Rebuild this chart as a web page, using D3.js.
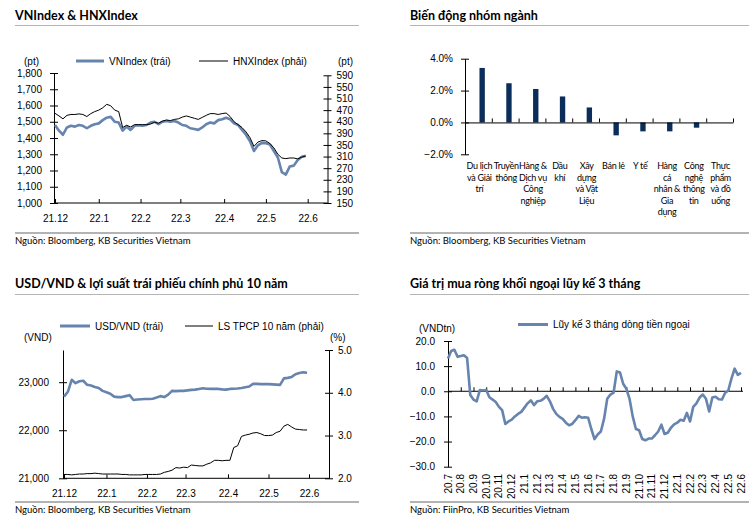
<!DOCTYPE html>
<html><head><meta charset="utf-8">
<script src="https://cdn.jsdelivr.net/npm/d3@7"></script>
<style>
body{margin:0;background:#fff;}
svg{display:block;}
.title{font-family:Lato,"Open Sans",sans-serif;font-weight:bold;font-size:12.5px;fill:#000;}
.src{font-family:Lato,sans-serif;font-size:9.5px;fill:#000;}
.tk{font-family:"Liberation Sans",Arial,sans-serif;font-size:10px;fill:#000;}
.cat{font-family:Lato,sans-serif;font-size:9px;letter-spacing:-0.3px;fill:#000;}
</style></head>
<body><svg id="c" width="749" height="520"></svg>
<script>
// ---------- DATA ----------
// Panel 1: VNIndex & HNXIndex (sampled every 2nd trading day)
const p1MonthLabels = ["21.12","22.1","22.2","22.3","22.4","22.5","22.6"];
const p1MonthStart = [0,22,43,63,85,106,127];
const vnIndex = [1480,1445,1420,1465,1475,1470,1480,1475,1460,1475,1485,1490,1510,1525,1530,1500,
 1495,1445,1470,1450,1475,1478,1475,1480,1495,1500,1485,1500,1505,1500,1505,1495,
 1480,1475,1460,1455,1450,1465,1485,1495,1490,1510,1515,1525,1515,1490,1480,1450,
 1420,1380,1320,1355,1370,1368,1360,1320,1280,1190,1175,1225,1230,1265,1285,1290];
const hnxIndex = [459,450,440,452,455,455,457,455,448,458,465,470,478,490,485,470,
 465,410,418,412,420,420,420,420,422,428,425,432,436,434,438,440,
 446,450,446,442,438,445,452,458,458,455,458,460,448,430,420,410,
 395,375,345,360,365,364,355,340,318,305,303,305,305,302,308,312];
const p1LeftTicks = [1000,1100,1200,1300,1400,1500,1600,1700,1800];
const p1RightTicks = [150,190,230,270,310,350,390,430,470,510,550,590];

// Panel 2: sector performance
const sectors = [
 ["Du lịch","và Giải","trí"],["Truyền","thông"],["Hàng &","Dịch vụ","Công","nghiệp"],["Dầu","khí"],
 ["Xây","dựng","và Vật","Liệu"],["Bán lẻ"],["Y tế"],["Hàng","cá","nhân &","Gia","dụng"],
 ["Công","nghệ","thông","tin"],["Thực","phẩm","và đồ","uống"]];
const sectorChange = [3.42,2.46,2.1,1.63,0.94,-0.81,-0.56,-0.56,-0.33,0];
const p2Ticks = [-2,0,2,4];

// Panel 3: USD/VND & 10Y government bond yield (every 2nd trading day)
const p3MonthLabels = ["21.12","22.1","22.2","22.3","22.4","22.5","22.6"];
const p3MonthStart = [0,22,43,63,85,106,127];
const usdVnd = [22700,22800,23050,22980,23020,23030,22945,22930,22900,22880,22820,22790,22760,22700,22690,22690,
 22710,22730,22630,22640,22645,22650,22650,22655,22680,22710,22690,22740,22820,22815,22820,22820,
 22830,22840,22845,22860,22875,22865,22860,22865,22860,22850,22845,22860,22865,22870,22880,22895,
 22910,22965,22965,22960,22960,22960,22955,22950,22945,23080,23090,23110,23165,23190,23205,23195];
const bondYield = [2.09,2.09,2.08,2.09,2.1,2.1,2.11,2.11,2.12,2.11,2.1,2.1,2.1,2.1,2.1,2.09,
 2.09,2.08,2.08,2.08,2.08,2.09,2.09,2.09,2.09,2.1,2.14,2.16,2.19,2.25,2.24,2.26,
 2.25,2.31,2.3,2.29,2.29,2.33,2.36,2.42,2.42,2.41,2.42,2.42,2.72,2.76,2.98,3.01,
 3.03,3.06,3.07,3.04,3.0,3.0,3.01,3.07,3.1,3.22,3.26,3.2,3.15,3.14,3.13,3.13];
const p3LeftTicks = [21000,22000,23000];
const p3RightTicks = [2,3,4,5];

// Panel 4: foreign net buying, 3-month cumulative (every quarter month)
const p4MonthLabels = ["20.7","20.8","20.9","20.10","20.11","20.12","21.1","21.2","21.3","21.4","21.5","21.6",
 "21.7","21.8","21.9","21.10","21.11","21.12","22.1","22.2","22.3","22.4","22.5","22.6"];
const foreignFlow = [13,16,16.5,13.7,14,14.3,13.2,-1.5,-3.3,-4,0.5,0.3,0.5,-2.4,-3.3,-4.3,
 -6.2,-7.5,-13,-12,-11.3,-10,-9,-8.2,-6.5,-4.8,-3.6,-5.5,-4,-3.8,-3,-1.8,
 -4,-7,-9,-10.2,-11,-12.5,-13.5,-13,-11.5,-9.8,-10.5,-10.3,-10.5,-15,-19,-17.2,
 -16,-11,-3,-1.3,-0.5,7.9,7.5,3,1,-3,-10,-15,-15.5,-19,-19.5,-18.8,
 -18.8,-17.5,-16,-13.3,-17,-16.5,-14.5,-13.2,-12.5,-11.3,-11.7,-8.6,-12,-6.2,-4.8,-2.5,
 -1.3,-3,-8,-2.5,-2.2,-3.2,-3.3,-0.7,0.3,5,9,6.5,7.3];
const p4Ticks = [-30,-20,-10,0,10,20];

// ---------- DRAW ----------
const BLUE = "#6784ae", NAVY = "#0b2d59", RULE = "#9a9a9a";
const svg = d3.select("#c");
svg.append("rect").attr("width",749).attr("height",520).attr("fill","#fff");

function header(x0, x1, y, text, ruleY){
  svg.append("text").attr("class","title").attr("x",x0).attr("y",y).text(text);
  svg.append("line").attr("x1",x0).attr("x2",x1).attr("y1",ruleY).attr("y2",ruleY)
    .attr("stroke","#b5b5b5").attr("stroke-width",1.2);
}
function source(x0,x1,ruleY,text){
  svg.append("line").attr("x1",x0).attr("x2",x1).attr("y1",ruleY).attr("y2",ruleY)
    .attr("stroke",RULE).attr("stroke-width",1.6);
  svg.append("text").attr("class","src").attr("x",x0).attr("y",ruleY+11).text(text);
}
function styleAxis(g, cross){
  g.select(".domain").attr("stroke","#000").attr("stroke-width",1);
  g.selectAll(".tick line").attr("stroke","#000");
  if(cross==="v") g.selectAll(".tick line").attr("x1",-4).attr("x2",4);
  g.selectAll("text").attr("class","tk").attr("font-family",null).attr("font-size",null);
}
function legendItem(x, y, w, color, sw, label){
  svg.append("line").attr("x1",x).attr("x2",x+w).attr("y1",y).attr("y2",y)
    .attr("stroke",color).attr("stroke-width",sw);
  svg.append("text").attr("class","tk").attr("x",x+w+5).attr("y",y+3.5).text(label);
}

// ===== Panel 1 =====
header(15,359,20,"VNIndex & HNXIndex",25.5);
{
  const x = d3.scaleLinear().domain([0,127]).range([55,307.7]);
  const yL = d3.scaleLinear().domain([1000,1800]).range([203,73]);
  const yR = d3.scaleLinear().domain([150,590]).range([203,75.3]);
  const gL = svg.append("g").attr("transform","translate(54,0)")
    .call(d3.axisLeft(yL).tickValues(p1LeftTicks).tickFormat(d3.format(",")).tickSize(4).tickSizeOuter(0).tickPadding(8));
  styleAxis(gL,"v");
  const gR = svg.append("g").attr("transform","translate(327.5,0)")
    .call(d3.axisRight(yR).tickValues(p1RightTicks).tickSize(4).tickSizeOuter(0).tickPadding(5));
  styleAxis(gR,"v");
  const gB = svg.append("g").attr("transform","translate(0,203)")
    .call(d3.axisBottom(x).tickValues(p1MonthStart).tickFormat((d,i)=>p1MonthLabels[i]).tickSize(-4).tickSizeOuter(0).tickPadding(12));
  styleAxis(gB);
  gB.select(".domain").attr("d","M54,0H327.5");
  const line1 = d3.line().x((d,i)=>x(i*2)).y(d=>yL(d));
  const line2 = d3.line().x((d,i)=>x(i*2)).y(d=>yR(d));
  svg.append("path").attr("d",line1(vnIndex)).attr("fill","none").attr("stroke",BLUE).attr("stroke-width",2.6).attr("stroke-linejoin","round");
  svg.append("path").attr("d",line2(hnxIndex)).attr("fill","none").attr("stroke","#000").attr("stroke-width",1).attr("stroke-linejoin","round");
  legendItem(76,61,28,BLUE,3,"VNIndex (trái)");
  legendItem(199,61,29,"#000",1,"HNXIndex (phải)");
  svg.append("text").attr("class","tk").attr("x",24).attr("y",65).text("(pt)");
  svg.append("text").attr("class","tk").attr("x",338).attr("y",65).text("(pt)");
}
source(15,359,233,"Nguồn: Bloomberg, KB Securities Vietnam");

// ===== Panel 2 =====
header(410,749,20,"Biến động nhóm ngành",25.5);
{
  const idx = sectors.map((d,i)=>i);
  const x = d3.scaleBand().domain(idx).range([465,733]);
  const y = d3.scaleLinear().domain([-2,4]).range([154.3,58.7]);
  const gL = svg.append("g").attr("transform","translate(465,0)")
    .call(d3.axisLeft(y).tickValues(p2Ticks).tickFormat(d=>d3.format(".1f")(d)+"%").tickSize(4).tickSizeOuter(0).tickPadding(8));
  styleAxis(gL,"v");
  const bw = x.bandwidth();
  svg.append("g").selectAll("rect").data(sectorChange).join("rect")
    .attr("x",(d,i)=>x(i)+bw*0.54).attr("width",bw*0.2)
    .attr("y",d=>y(Math.max(0,d))).attr("height",d=>Math.abs(y(d)-y(0)))
    .attr("fill",NAVY);
  const gB = svg.append("g").attr("transform",`translate(0,${y(0)})`)
    .call(d3.axisBottom(d3.scaleLinear().domain([0,sectors.length]).range([465,733]))
      .tickValues(d3.range(1,sectors.length+1)).tickSize(-4).tickSizeOuter(0).tickFormat(""));
  styleAxis(gB);
  const lab = svg.append("g");
  sectors.forEach((lines,i)=>{
    const cx = x(i)+bw/2+1;
    const t = lab.append("text").attr("class","cat").attr("text-anchor","middle")
      .attr("x",cx).attr("y",169);
    lines.forEach((s,k)=>t.append("tspan").attr("x",cx).attr("dy",k?11.5:0).text(s));
  });
}
source(410,749,233,"Nguồn: Bloomberg, KB Securities Vietnam");

// ===== Panel 3 =====
header(15,359,288,"USD/VND & lợi suất trái phiếu chính phủ 10 năm",294.5);
{
  const x = d3.scaleLinear().domain([0,127]).range([64,309]);
  const yL = d3.scaleLinear().domain([21000,23670]).range([478.3,350]);
  const yR = d3.scaleLinear().domain([2,5]).range([478.3,350]);
  const gL = svg.append("g").attr("transform","translate(63,0)")
    .call(d3.axisLeft(yL).tickValues(p3LeftTicks).tickFormat(d3.format(",")).tickSize(4).tickSizeOuter(0).tickPadding(10));
  styleAxis(gL,"v");
  const gR = svg.append("g").attr("transform","translate(329,0)")
    .call(d3.axisRight(yR).tickValues(p3RightTicks).tickFormat(d3.format(".1f")).tickSize(4).tickSizeOuter(0).tickPadding(5));
  styleAxis(gR,"v");
  const gB = svg.append("g").attr("transform","translate(0,478.3)")
    .call(d3.axisBottom(x).tickValues(p3MonthStart).tickFormat((d,i)=>p3MonthLabels[i]).tickSize(-4).tickSizeOuter(0).tickPadding(12));
  styleAxis(gB);
  gB.select(".domain").attr("d","M63,0H329");
  const l1 = d3.line().x((d,i)=>x(i*2)).y(d=>yL(d));
  const l2 = d3.line().x((d,i)=>x(i*2)).y(d=>yR(d));
  svg.append("path").attr("d",l1(usdVnd)).attr("fill","none").attr("stroke",BLUE).attr("stroke-width",2.6).attr("stroke-linejoin","round");
  svg.append("path").attr("d",l2(bondYield)).attr("fill","none").attr("stroke","#000").attr("stroke-width",1).attr("stroke-linejoin","round");
  legendItem(60,326,30,BLUE,3,"USD/VND (trái)");
  legendItem(185,326,28,"#000",1,"LS TPCP 10 năm (phải)");
  svg.append("text").attr("class","tk").attr("x",24).attr("y",341).text("(VND)");
  svg.append("text").attr("class","tk").attr("x",330).attr("y",341).text("(%)");
}
source(15,359,502,"Nguồn: Bloomberg, KB Securities Vietnam");

// ===== Panel 4 =====
header(410,749,288,"Giá trị mua ròng khối ngoại lũy kế 3 tháng",294.5);
{
  const x = d3.scaleLinear().domain([0,23]).range([448,741]);
  const y = d3.scaleLinear().domain([-30,20]).range([466.7,341]);
  const gL = svg.append("g").attr("transform","translate(448,0)")
    .call(d3.axisLeft(y).tickValues(p4Ticks).tickFormat(d3.format(".1f")).tickSize(4).tickSizeOuter(0).tickPadding(9));
  styleAxis(gL,"v");
  const gB = svg.append("g").attr("transform",`translate(0,${y(0)})`)
    .call(d3.axisBottom(x).tickValues(d3.range(0,24)).tickSize(-4).tickSizeOuter(0).tickFormat(""));
  styleAxis(gB);
  gB.select(".domain").attr("d","M448,0H743");
  svg.append("g").selectAll("text").data(p4MonthLabels).join("text")
    .attr("class","tk").attr("text-anchor","end")
    .attr("transform",(d,i)=>`translate(${x(i)+3.5},474) rotate(-90)`).text(d=>d);
  const ln = d3.line().x((d,i)=>x(i*0.25)).y(d=>y(d));
  svg.append("path").attr("d",ln(foreignFlow)).attr("fill","none").attr("stroke",BLUE).attr("stroke-width",2.6).attr("stroke-linejoin","round");
  legendItem(518,324.5,30,BLUE,3,"Lũy kế 3 tháng dòng tiền ngoại");
  svg.append("text").attr("class","tk").attr("x",419).attr("y",332).text("(VNDtn)");
}
source(410,749,502,"Nguồn: FiinPro, KB Securities Vietnam");
</script></body></html>
